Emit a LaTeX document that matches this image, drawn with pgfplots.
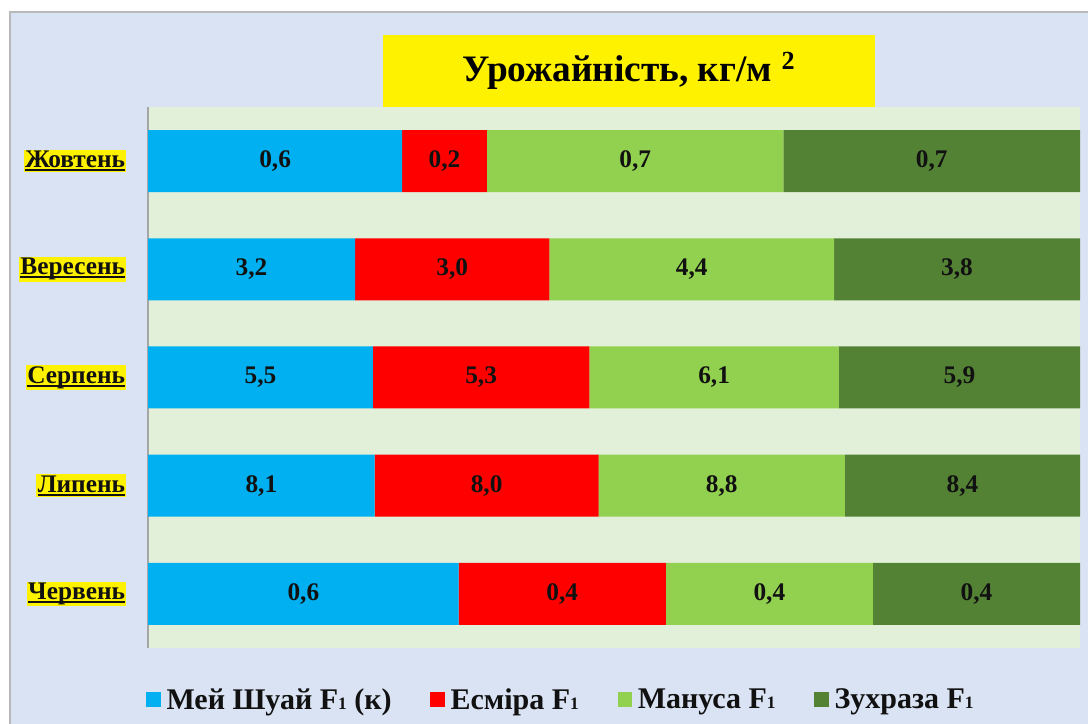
\documentclass[border=0pt]{standalone}
\usepackage{pgfplots}
\pgfplotsset{compat=1.18}
\usepackage{pgfplotstable}
\usepackage{fontspec}
\setmainfont{Liberation Serif}
\definecolor{cBlue}{HTML}{00B0F0}
\definecolor{cRed}{HTML}{FF0000}
\definecolor{cLight}{HTML}{92D050}
\definecolor{cDark}{HTML}{548235}
\definecolor{outerbg}{HTML}{DAE3F3}
\definecolor{plotbg}{HTML}{E2F0D9}
\definecolor{txt}{HTML}{111111}
\newlength\hlw
\newcommand\hl[1]{\settowidth\hlw{#1}{\setlength{\fboxsep}{1pt}\colorbox{yellow}{\rlap{#1}\rule[-2.6pt]{\hlw}{1.4pt}}}}
\newcommand\Fo{F{\fontsize{13}{13}\selectfont 1}}
\pgfplotstableread{
y a b c d
0 0.6 0.4 0.4 0.4
1 8.1 8.0 8.8 8.4
2 5.5 5.3 6.1 5.9
3 3.2 3.0 4.4 3.8
4 0.6 0.2 0.7 0.7
}\data
\def\S{(\thisrow{a}+\thisrow{b}+\thisrow{c}+\thisrow{d})}
\pgfplotsset{myleg/.style={legend image code/.code={\fill[##1] (0pt,-5.6pt) rectangle (11.2pt,5.6pt);}}}
\begin{document}
\begin{tikzpicture}
\fill[white] (0,0) rectangle (816pt,543pt);
\useasboundingbox (0,0) rectangle (816pt,543pt);
\fill[outerbg] (7.5pt,0) rectangle (816pt,534pt);
\draw[gray!55, line width=1.2pt] (7.5pt,0) -- (7.5pt,534pt) -- (816pt,534pt);
\begin{axis}[
  at={(111pt,57pt)}, anchor=south west,
  width=699pt, height=405.75pt, scale only axis,
  xbar stacked, bar width=46.5pt,
  xmin=0, xmax=100, ymin=-0.5, ymax=4.5, enlargelimits=false,
  axis background/.style={fill=plotbg},
  axis x line=none, axis y line*=left,
  y axis line style={draw=gray!70, line width=0.8pt, -},
  xtick=\empty, ytick={0,1,2,3,4}, ytick style={draw=none},
  yticklabels={\hl{Червень},\hl{Липень},\hl{Серпень},\hl{Вересень},\hl{Жовтень}},
  yticklabel style={font=\fontsize{19}{22}\selectfont\bfseries, text=txt, inner sep=0pt, xshift=-16pt},
  legend columns=4,
  legend style={at={(0.442,-0.096)}, anchor=center, draw=none, fill=none,
    font=\fontsize{22.5}{26}\selectfont\bfseries, text=txt,
    nodes={inner sep=0pt},
    /tikz/every even column/.append style={column sep=29pt},
    /tikz/every odd column/.append style={column sep=4pt}},
]
\addplot[fill=cBlue, draw=none, myleg] table[y=y, x expr={\thisrow{a}*100/\S}] {\data};
\addlegendentry{Мей Шуай \Fo{} (к)}
\addplot[fill=cRed, draw=none, myleg] table[y=y, x expr={\thisrow{b}*100/\S}] {\data};
\addlegendentry{Есміра \Fo}
\addplot[fill=cLight, draw=none, myleg] table[y=y, x expr={\thisrow{c}*100/\S}] {\data};
\addlegendentry{Мануса \Fo}
\addplot[fill=cDark, draw=none, myleg] table[y=y, x expr={\thisrow{d}*100/\S}] {\data};
\addlegendentry{Зухраза \Fo}
\end{axis}
\begin{axis}[
  at={(111pt,57pt)}, anchor=south west,
  width=699pt, height=405.75pt, scale only axis, hide axis,
  xmin=0, xmax=100, ymin=-0.5, ymax=4.5, enlargelimits=false,
  nodes near coords={\pgfmathprintnumber[fixed,fixed zerofill,precision=1,use comma,assume math mode=true]{\pgfplotspointmeta}},
  nodes near coords style={anchor=center, font=\fontsize{19}{22}\selectfont\bfseries, text=txt},
  point meta=explicit,
]
\addplot[draw=none] table[y=y, x expr={(\thisrow{a}/2)*100/\S}, meta=a] {\data};
\addplot[draw=none] table[y=y, x expr={(\thisrow{a}+\thisrow{b}/2)*100/\S}, meta=b] {\data};
\addplot[draw=none] table[y=y, x expr={(\thisrow{a}+\thisrow{b}+\thisrow{c}/2)*100/\S}, meta=c] {\data};
\addplot[draw=none] table[y=y, x expr={(\thisrow{a}+\thisrow{b}+\thisrow{c}+\thisrow{d}/2)*100/\S}, meta=d] {\data};
\end{axis}
\node[fill=yellow, minimum width=369pt, minimum height=54pt, inner sep=0pt] at (471.75pt,489.75pt)
  {\fontsize{28}{32}\selectfont\bfseries Урожайність, кг/м \textsuperscript{2}};
\end{tikzpicture}
\end{document}
